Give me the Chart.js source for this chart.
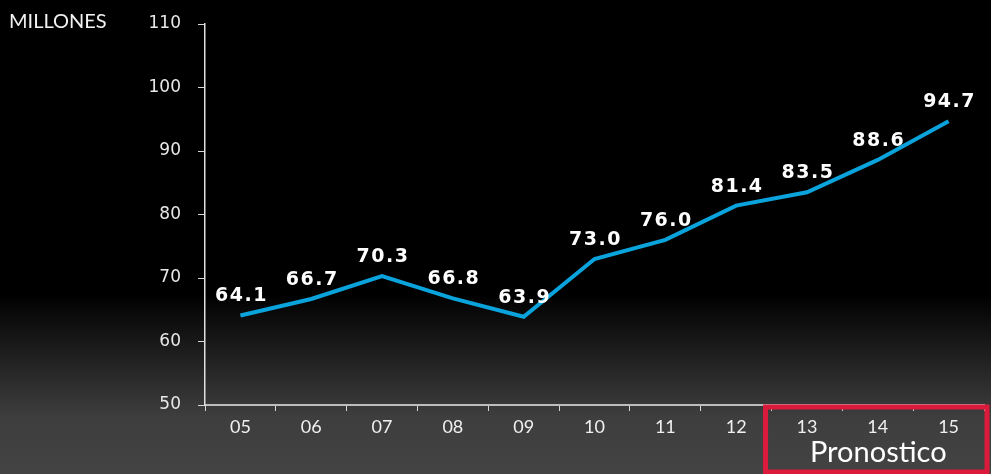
<!DOCTYPE html>
<html lang="es">
<head>
    <meta charset="UTF-8">
    <title>Millones - Pronostico</title>
    <script src="https://cdn.jsdelivr.net/npm/chart.js"></script>
    <style>
        html, body { margin: 0; padding: 0; background: #000; }
        #wrap { width: 991px; height: 474px; }
    </style>
</head>
<body>
    <div id="wrap"><canvas id="myLineChart"></canvas></div>

    <script>
        const years = ['05', '06', '07', '08', '09', '10', '11', '12', '13', '14', '15'];
        const millones = [64.1, 66.7, 70.3, 66.8, 63.9, 73.0, 76.0, 81.4, 83.5, 88.6, 94.7];
        const forecastYears = ['13', '14', '15'];
        const yMin = 50, yMax = 110, yStep = 10;

        // black to grey background
        const bgPlugin = {
            id: 'bg',
            beforeDraw(chart) {
                const c = chart.ctx;
                const g = c.createLinearGradient(0, 0, 0, chart.height);
                g.addColorStop(0, '#000');
                g.addColorStop(0.62, '#000');
                g.addColorStop(0.88, '#3e3e3e');
                g.addColorStop(1, '#434343');
                c.save();
                c.fillStyle = g;
                c.fillRect(0, 0, chart.width, chart.height);
                c.restore();
            }
        };

        // values above points, titles and forecast box
        const extrasPlugin = {
            id: 'extras',
            afterDraw(chart) {
                const c = chart.ctx;
                const meta = chart.getDatasetMeta(0);
                c.save();
                c.fillStyle = '#fff';
                c.font = 'bold 19px "DejaVu Sans"';
                c.letterSpacing = '1.5px';
                c.textAlign = 'center';
                c.textBaseline = 'middle';
                meta.data.forEach((pt, i) => {
                    c.fillText(millones[i].toFixed(1), pt.x + 1, pt.y - 19);
                });
                c.letterSpacing = '0px';

                c.textAlign = 'left';
                c.textBaseline = 'alphabetic';
                c.font = '20px Lato';
                c.fillStyle = '#f2f2f2';
                c.fillText('MILLONES', 9, 28);

                c.font = '15px Lato';
                c.fillStyle = '#eee';
                c.fillText('Fuente: LMC Automotive, IMF Oct 2010', 4, 486);

                // forecast box
                const x = chart.scales.x;
                const first = years.indexOf(forecastYears[0]);
                const step = x.getPixelForValue(1) - x.getPixelForValue(0);
                const left = x.getPixelForValue(first) - step / 2 - 6;
                const right = chart.width - 4;
                const top = chart.chartArea.bottom;
                const bottom = chart.height - 4;
                c.strokeStyle = '#dc1a3c';
                c.lineWidth = 5;
                c.strokeRect(left, top + 2, right - left, bottom - top);

                c.font = '29px Lato';
                c.fillStyle = '#fff';
                c.textAlign = 'center';
                c.fillText('Pronostico', (left + right) / 2 + 2, 462);
                c.restore();
            }
        };

        const ctx = document.getElementById('myLineChart').getContext('2d');
        const myLineChart = new Chart(ctx, {
            type: 'line',
            data: {
                labels: years,
                datasets: [{
                    label: 'Millones',
                    data: millones,
                    borderColor: '#0aa3dc',
                    borderWidth: 4,
                    pointRadius: 0,
                    tension: 0,
                    fill: false
                }]
            },
            options: {
                responsive: true,
                maintainAspectRatio: false,
                animation: false,
                layout: {
                    padding: { top: 24, right: 7, left: 0, bottom: 0 }
                },
                plugins: {
                    legend: { display: false },
                    tooltip: { enabled: false }
                },
                scales: {
                    x: {
                        offset: true,
                        grid: {
                            offset: true,
                            drawOnChartArea: false,
                            color: '#d8d8d8',
                            tickLength: 6
                        },
                        border: { color: '#bdbdbd', width: 2 },
                        ticks: {
                            color: '#f0f0f0',
                            font: { family: 'Lato', size: 18 },
                            padding: 5
                        },
                        afterFit(scale) { scale.height = 69; }
                    },
                    y: {
                        min: yMin,
                        max: yMax,
                        ticks: {
                            stepSize: yStep,
                            color: '#e8e8e8',
                            font: { family: '"DejaVu Sans"', size: 17 },
                            padding: 17
                        },
                        grid: {
                            drawOnChartArea: false,
                            color: '#d8d8d8',
                            tickLength: 7
                        },
                        border: { color: '#e0e0e0', width: 1.5 },
                        afterFit(scale) {
                            scale.width = 205;
                            scale.paddingTop = 0;
                            scale.paddingBottom = 0;
                        }
                    }
                }
            },
            plugins: [bgPlugin, extrasPlugin]
        });
    </script>
</body>
</html>
